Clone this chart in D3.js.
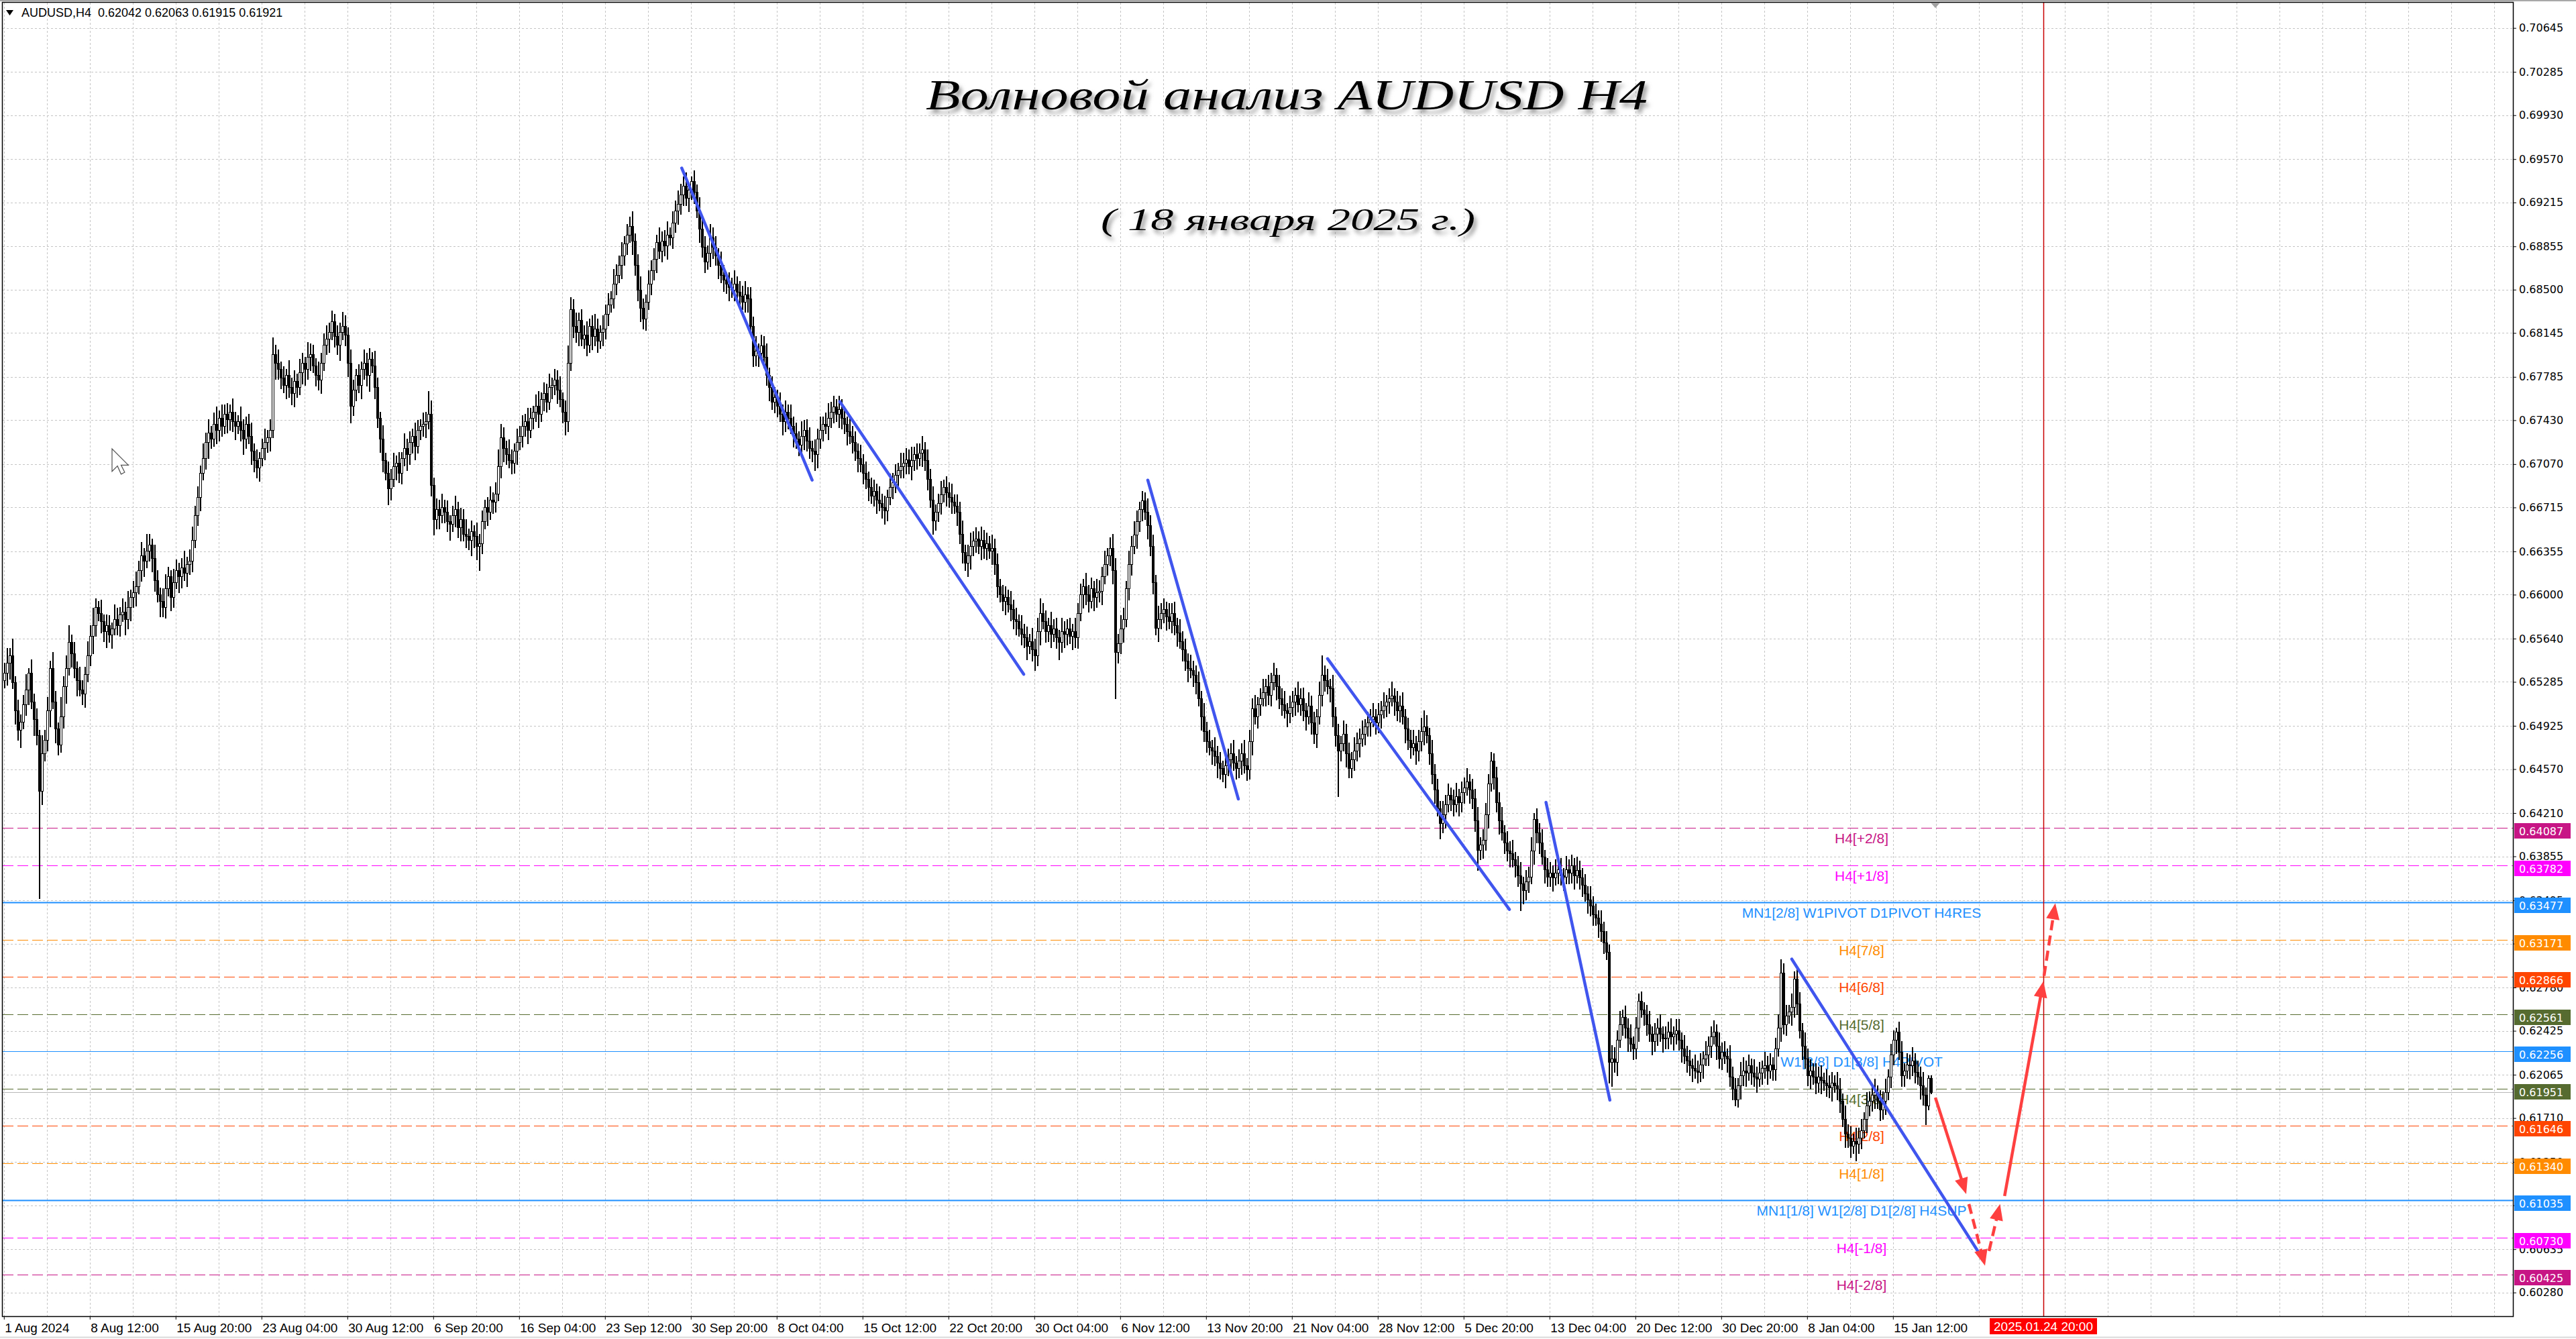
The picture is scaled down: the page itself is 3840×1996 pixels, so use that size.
<!DOCTYPE html>
<html><head><meta charset="utf-8">
<script src="https://cdn.jsdelivr.net/npm/d3@7"></script>
<style>html,body{margin:0;padding:0;background:#fff;overflow:hidden}svg{display:block}</style>
</head><body>
<svg id="c" width="3840" height="1996"></svg>
<script>
// ---------------- DATA ----------------
const symbolInfo = "AUDUSD,H4  0.62042 0.62063 0.61915 0.61921";
const titleLine1 = "Волновой анализ AUDUSD H4";
const titleLine2 = "( 18 января 2025 г.)";
const firstOpen = 6530; // pips (x 1e-4)
const closes = [
6536,6544,6550,6528,6505,6489, 6496,6510,6522,6536,6512,6498,
6485,6439,6470,6481,6505,6540, 6512,6490,6477,6500,6525,6540,
6561,6552,6540,6530,6522,6519, 6535,6550,6566,6575,6590,6585,
6578,6570,6575,6567,6572,6580, 6575,6584,6586,6580,6590,6598,
6602,6607,6620,6632,6628,6636, 6641,6630,6612,6600,6595,6590,
6605,6615,6598,6610,6620,6615, 6622,6618,6625,6628,6645,6665,
6680,6700,6712,6725,6733,6728, 6740,6735,6745,6738,6748,6744,
6750,6742,6738,6742,6735,6728, 6740,6730,6718,6710,6704,6712,
6720,6725,6729,6735,6797,6790, 6785,6778,6772,6780,6770,6765,
6775,6770,6782,6790,6785,6795, 6797,6788,6780,6776,6790,6805,
6810,6815,6824,6812,6805,6815, 6820,6813,6790,6755,6768,6780,
6772,6785,6790,6780,6793,6788, 6770,6745,6728,6710,6700,6687,
6695,6705,6708,6700,6712,6720, 6715,6725,6730,6722,6735,6738,
6740,6742,6748,6690,6662,6670, 6665,6672,6668,6660,6658,6665,
6670,6655,6662,6650,6648,6645, 6652,6648,6640,6642,6660,6672,
6668,6678,6676,6683,6705,6729, 6720,6715,6710,6708,6718,6725,
6730,6738,6742,6735,6745,6750, 6755,6748,6760,6765,6758,6770,
6772,6776,6768,6760,6750,6742, 6790,6834,6820,6815,6825,6810,
6813,6805,6820,6812,6818,6808, 6815,6818,6830,6838,6843,6855,
6862,6870,6878,6888,6895,6902, 6890,6870,6850,6835,6826,6840,
6855,6866,6875,6889,6882,6890, 6886,6895,6893,6905,6915,6920,
6928,6935,6925,6932,6939,6930, 6915,6900,6885,6873,6880,6893,
6885,6878,6870,6862,6858,6855, 6852,6850,6855,6848,6845,6840,
6846,6843,6820,6796,6800,6798, 6804,6795,6780,6770,6758,6762,
6755,6748,6742,6750,6745,6738, 6732,6728,6723,6730,6735,6726,
6720,6718,6715,6728,6735,6740, 6738,6745,6750,6754,6748,6752,
6745,6740,6734,6730,6725,6718, 6712,6707,6700,6695,6688,6681,
6685,6678,6675,6672,6669,6680, 6688,6692,6698,6702,6705,6708,
6711,6705,6710,6715,6712,6716, 6719,6710,6695,6678,6661,6668,
6675,6682,6688,6684,6680,6676, 6673,6668,6650,6635,6626,6632,
6640,6644,6646,6640,6645,6638, 6642,6636,6638,6625,6607,6600,
6595,6598,6592,6588,6580,6578, 6572,6568,6565,6558,6562,6555,
6550,6570,6585,6578,6570,6575, 6568,6572,6565,6561,6570,6568,
6572,6566,6570,6565,6585,6600, 6607,6600,6595,6605,6598,6602,
6603,6615,6625,6632,6638,6620, 6553,6560,6572,6580,6605,6625,
6640,6649,6660,6670,6677,6668, 6657,6640,6610,6573,6580,6585,
6588,6582,6578,6585,6575,6569, 6562,6555,6546,6540,6538,6534,
6528,6515,6500,6488,6480,6475, 6472,6468,6462,6458,6453,6460,
6465,6470,6462,6458,6464,6470, 6460,6457,6480,6507,6500,6510,
6515,6520,6525,6518,6528,6534, 6525,6515,6510,6505,6503,6508,
6512,6518,6510,6515,6505,6500, 6509,6495,6486,6500,6518,6534,
6530,6525,6523,6500,6485,6472, 6478,6486,6470,6458,6465,6472,
6478,6482,6486,6492,6495,6498, 6500,6495,6502,6505,6509,6512,
6515,6517,6512,6505,6509,6500, 6490,6481,6475,6478,6472,6480,
6488,6492,6485,6470,6453,6440, 6425,6413,6420,6428,6436,6432,
6428,6435,6430,6438,6442,6447, 6440,6433,6415,6391,6395,6399,
6420,6445,6464,6450,6430,6415, 6405,6397,6390,6388,6383,6378,
6370,6363,6358,6365,6369,6390, 6416,6405,6397,6385,6375,6369,
6372,6368,6372,6375,6370,6369, 6375,6372,6378,6370,6374,6368,
6362,6355,6350,6345,6338,6335, 6330,6324,6315,6307,6217,6220,
6217,6235,6248,6254,6245,6237, 6232,6228,6245,6267,6260,6256,
6248,6240,6234,6240,6245,6240, 6236,6237,6242,6238,6240,6243,
6235,6228,6222,6218,6214,6212, 6210,6209,6215,6220,6223,6230,
6238,6242,6230,6220,6225,6222, 6220,6205,6195,6186,6198,6206,
6210,6208,6214,6208,6205,6203, 6208,6212,6214,6210,6215,6211,
6228,6245,6290,6248,6255,6258, 6262,6285,6265,6243,6230,6220,
6206,6210,6205,6200,6205,6202, 6200,6198,6196,6200,6198,6195,
6185,6170,6158,6155,6148,6152, 6150,6155,6161,6170,6181,6185,
6190,6192,6185,6178,6185,6192, 6205,6223,6235,6242,6225,6206,
6210,6215,6214,6218,6209,6205, 6198,6190,6181,6204,6192
];
const upWick = [
8,12,6,14,5,9,6,8,13,4,11,7, 9,4,15,8,11,6,13,9,5,16,8,10, 14,6,9,5,11,8,6,12,9,14,7,5, 11,6,9,8,5,12,9,6,11,8,13,6,
9,12,8,11,6,14,9,5,11,8,6,10, 12,8,5,11,9,6,8,14,6,9,11,8, 9,6,12,8,11,5,9,14,6,11,8,9, 6,11,8,5,12,9,6,8,11,6,9,5,
8,11,6,9,14,8,11,6,9,5,12,8, 9,6,11,8,5,12,9,8,6,11,8,9, 11,8,9,6,9,8,12,9,6,11,8,5, 9,6,11,8,9,6,12,8,5,11,6,9,
8,11,6,9,5,12,8,9,6,11,8,6, 9,8,19,11,6,9,8,11,6,9,5,8, 11,6,9,8,12,6,9,5,11,8,9,6, 8,11,6,9,14,11,8,6,12,9,6,11,
8,9,6,11,8,5,9,12,6,9,8,11, 6,9,8,11,6,9,14,10,8,11,6,9, 8,11,6,9,12,8,6,11,8,9,6,12, 9,8,11,6,9,8,12,6,9,11,8,6,
11,8,9,6,12,8,9,11,6,9,8,11, 9,8,11,6,4,9,6,11,8,9,6,11, 8,9,6,11,8,6,9,8,11,6,9,8, 11,6,9,8,12,6,9,8,11,6,9,8,
6,11,8,9,6,11,8,9,6,12,8,9, 11,6,9,8,11,6,9,12,8,9,6,11, 8,9,6,11,8,9,6,11,8,9,6,8, 9,6,11,8,9,6,11,8,9,6,11,8,
9,8,11,6,9,8,11,6,9,8,11,6, 8,11,6,9,8,11,6,9,8,11,6,9, 11,8,9,6,11,8,9,6,11,8,9,6, 8,9,6,11,8,9,6,11,8,9,6,11,
9,11,12,8,9,6,11,8,9,6,11,8, 8,9,6,11,8,9,6,11,8,9,6,11, 9,8,11,6,9,12,10,8,11,9,6,11, 8,11,9,6,8,7,11,8,9,6,11,8,
9,6,11,8,9,6,11,8,9,6,11,8, 8,9,6,11,8,9,6,11,8,9,6,11, 9,8,11,6,9,8,11,6,9,8,11,6, 8,11,6,9,8,10,6,9,8,11,6,9,
9,6,11,8,9,6,11,8,9,6,11,16, 8,9,6,11,8,9,6,11,8,9,6,11, 9,8,11,6,9,8,11,6,9,8,11,6, 8,12,6,9,8,11,6,9,8,11,6,9,
11,13,9,6,11,8,9,6,11,8,9,6, 8,11,6,9,8,11,6,9,8,11,6,9, 9,8,7,6,9,8,11,6,9,8,11,6, 8,11,6,9,8,11,5,9,8,11,6,9,
9,6,11,8,9,6,11,8,9,6,11,8, 8,9,6,11,8,9,6,11,8,9,6,11, 9,8,11,6,9,8,11,6,9,6,8,6, 8,11,6,9,8,11,6,9,8,11,6,9,
9,6,11,8,9,6,11,8,9,6,11,8, 8,9,6,11,8,9,6,11,8,9,6,11, 11,8,9,6,11,8,9,6,11,8,9,6, 9,11,11,8,9,6,11,6,8,9,6,11,
8,9,6,11,8,9,6,11,8,9,6,11, 9,6,11,8,9,6,11,8,9,6,11,8, 8,11,6,9,8,11,6,9,8,3,8,9, 6,9,8,11,6,9,8,11,6,2,2
];
const dnWick = [
6,10,13,5,11,8,14,6,9,12,5,13, 8,88,11,6,9,13,5,11,8,6,9,14, 6,11,8,13,5,9,11,6,8,14,9,6, 9,8,13,6,11,5,8,9,6,13,8,11,
8,11,6,9,13,6,8,11,9,6,13,8, 9,6,11,8,5,13,9,6,11,8,9,6, 8,11,6,9,13,8,6,11,9,8,6,11, 9,8,11,6,9,13,8,6,11,9,8,11,
6,9,8,11,6,13,8,9,6,11,8,9, 11,8,6,9,13,8,11,6,9,8,11,6, 8,11,6,9,8,13,6,9,11,14,8,9, 6,11,8,9,13,6,9,8,11,9,6,13,
9,6,11,8,9,6,13,8,9,11,6,8, 8,11,6,9,13,8,11,6,9,8,13,6, 9,8,11,6,9,8,13,9,11,20,8,6, 11,6,9,8,6,9,11,8,6,9,8,11,
6,9,8,11,6,9,8,11,6,9,8,6, 9,8,11,6,9,11,8,6,9,8,11,6, 8,9,6,11,8,9,6,11,8,9,6,8, 9,6,11,8,9,6,11,8,9,11,8,9,
6,9,8,11,6,9,8,11,6,9,8,11, 8,9,6,11,8,9,6,11,8,9,6,11, 9,8,11,6,9,8,11,6,9,8,11,6, 8,11,6,9,8,11,6,9,8,11,6,9,
9,6,11,8,9,6,11,8,9,6,11,8, 8,9,13,11,8,9,6,11,8,9,6,11, 9,8,11,6,9,8,11,6,9,8,11,6, 8,11,6,9,11,8,6,9,8,11,6,9,
9,6,11,8,9,6,11,8,9,6,11,8, 8,9,6,11,8,9,6,11,8,9,6,11, 11,8,9,6,11,8,9,6,11,8,9,6, 8,11,6,9,8,11,6,9,8,11,6,9,
12,8,11,6,9,8,11,6,9,14,8,11, 9,6,11,8,9,6,11,8,9,6,11,8, 8,11,6,9,8,11,38,9,8,11,6,9, 9,6,11,8,9,6,11,8,9,6,11,8,
8,11,6,9,8,11,6,9,8,11,6,9, 9,6,11,8,9,6,11,8,12,9,6,11, 8,11,6,9,8,11,6,9,8,11,6,9, 9,6,11,8,9,6,11,8,9,6,11,8,
8,11,6,9,8,11,6,9,8,11,6,9, 9,6,11,8,9,37,8,6,11,8,8,9, 8,11,6,9,8,11,6,9,8,11,6,9, 9,6,11,8,9,6,11,8,9,6,11,8,
8,11,6,9,8,11,6,13,8,11,6,9, 9,6,11,8,9,6,11,8,9,17,8,11, 8,11,6,9,8,11,6,9,8,11,6,9, 9,22,11,8,9,6,11,8,9,6,11,8,
8,11,6,9,8,11,6,9,8,11,6,9, 9,6,11,8,9,6,11,8,9,6,17,20, 8,11,6,9,8,11,6,9,8,11,6,9, 9,6,11,8,9,6,11,8,9,6,11,8,
8,11,6,9,8,11,6,9,8,11,6,9, 9,6,11,8,9,6,11,8,9,5,6,11, 8,11,6,9,8,11,6,9,8,11,6,9, 9,6,11,8,9,6,11,8,9,6,11,8,
8,11,6,9,8,11,6,9,8,11,6,9, 9,6,11,8,9,6,14,8,9,6,11,8, 8,11,6,9,8,11,6,9,8,11,6,9, 9,6,11,8,9,6,11,8,15,3,1
];
// time axis: one label every 32 H4 bars starting at bar 0
const timeLabels = ["1 Aug 2024","8 Aug 12:00","15 Aug 20:00","23 Aug 04:00","30 Aug 12:00","6 Sep 20:00",
 "16 Sep 04:00","23 Sep 12:00","30 Sep 20:00","8 Oct 04:00","15 Oct 12:00","22 Oct 20:00","30 Oct 04:00",
 "6 Nov 12:00","13 Nov 20:00","21 Nov 04:00","28 Nov 12:00","5 Dec 20:00","13 Dec 04:00","20 Dec 12:00",
 "30 Dec 20:00","8 Jan 04:00","15 Jan 12:00"];
const labelEvery = 32;
const priceTicks = ["0.70645","0.70285","0.69930","0.69570","0.69215","0.68855","0.68500","0.68145","0.67785",
 "0.67430","0.67070","0.66715","0.66355","0.66000","0.65640","0.65285","0.64925","0.64570","0.64210","0.63855",
 "0.63495","0.63140","0.62780","0.62425","0.62065","0.61710","0.61350","0.60995","0.60635","0.60280"];
// Murrey-type levels
const levelPrices = [0.64087,0.63782,0.63477,0.63171,0.62866,0.62561,0.62256,0.61951,0.61646,0.61340,0.61035,0.60730,0.60425];
const levelNames = ["H4[+2/8]","H4[+1/8]","MN1[2/8] W1PIVOT D1PIVOT H4RES","H4[7/8]","H4[6/8]","H4[5/8]",
 "W1[3/8] D1[3/8] H4PIVOT","H4[3/8]","H4[2/8]","H4[1/8]","MN1[1/8] W1[2/8] D1[2/8] H4SUP","H4[-1/8]","H4[-2/8]"];
const bidPrice = 0.61921;
// wave lines: [bar, price] start and end
const waveStart = [[252.6,0.69497],[311.5,0.67583],[426.3,0.66939],[493.3,0.65475],[574.7,0.64298],[666.3,0.63013]];
const waveEnd   = [[301.2,0.66939],[380.05,0.65348],[460.05,0.64325],[561.05,0.63420],[598.5,0.61857],[736.15,0.60601]];
// forecast arrows: [bar, price]
const fcStart = [[719.8,0.61878],[732.3,0.61005],[739.8,0.60620],[745.6,0.61071],[760.3,0.62875]];
const fcEnd   = [[731.3,0.61087],[738.3,0.60499],[743.9,0.61005],[760.05,0.62831],[764.5,0.63471]];
const fcKind  = ["solid","dash","dash","solid","dash"];
const markerBar = 760; const markerLabel = "2025.01.24 20:00";
const shiftBar = 719.8;

// ---------------- STYLE ----------------
const LEVEL_COLOR = {
 "H4[+2/8]":"#C71585","H4[-2/8]":"#C71585","H4[+1/8]":"#FF00FF","H4[-1/8]":"#FF00FF",
 "H4[7/8]":"#FF8C00","H4[1/8]":"#FF8C00","H4[6/8]":"#FF4500","H4[2/8]":"#FF4500",
 "H4[5/8]":"#556B2F","H4[3/8]":"#556B2F"};
const levelColor = n => LEVEL_COLOR[n] || "#1E90FF";
const levelSolid = n => !LEVEL_COLOR[n];
const levelWidth = n => (n.startsWith("MN1") ? 2 : 1);

const W = 3840, H = 1996;
const L = 4, T = 4, R = 3746, B = 1962;
const svg = d3.select("#c");

const x = d3.scaleLinear().domain([0, 1000]).range([5.8, 5.8 + 4000]);
const y = d3.scaleLinear().domain([0.60280, 0.70645]).range([1926.7, 41.7]);

svg.append("rect").attr("width", W).attr("height", H).attr("fill", "#fff");
svg.append("rect").attr("x",0).attr("y",0).attr("width",W).attr("height",2).attr("fill","#a8a8a8");
svg.append("line").attr("x1",0).attr("x2",W).attr("y1",1993.5).attr("y2",1993.5).attr("stroke","#d9d9d9").attr("stroke-width",2);

const defs = svg.append("defs");
defs.append("clipPath").attr("id","plot").append("rect").attr("x",L).attr("y",T).attr("width",R-L).attr("height",B-T);
const f = defs.append("filter").attr("id","sh").attr("x","-5%").attr("y","-20%").attr("width","110%").attr("height","150%");
f.append("feDropShadow").attr("dx",4).attr("dy",6).attr("stdDeviation",3).attr("flood-color","#777").attr("flood-opacity",0.75);

const plot = svg.append("g").attr("clip-path","url(#plot)");

// grid
const gridBars = d3.range(0, 1000, 16).filter(b => x(b) < R);
plot.append("g").selectAll("line").data(gridBars).join("line")
 .attr("x1", d => Math.round(x(d)) + 0.5).attr("x2", d => Math.round(x(d)) + 0.5)
 .attr("y1", T).attr("y2", B).attr("stroke", "#c4c4c4").attr("stroke-dasharray", "3,3");
plot.append("g").selectAll("line").data(priceTicks).join("line")
 .attr("x1", L).attr("x2", R)
 .attr("y1", d => Math.round(y(+d)) + 0.5).attr("y2", d => Math.round(y(+d)) + 0.5)
 .attr("stroke", "#c4c4c4").attr("stroke-dasharray", "3,3");

// level lines
plot.append("g").selectAll("line").data(levelPrices).join("line")
 .attr("x1", L).attr("x2", R)
 .attr("y1", d => Math.round(y(d)) + 0.5).attr("y2", d => Math.round(y(d)) + 0.5)
 .attr("stroke", (d,i) => levelColor(levelNames[i]))
 .attr("stroke-width", (d,i) => levelWidth(levelNames[i]))
 .attr("stroke-dasharray", (d,i) => levelSolid(levelNames[i]) ? null : "16,6");
// bid line
plot.append("line").attr("x1",L).attr("x2",R).attr("y1",Math.round(y(bidPrice))+0.5).attr("y2",Math.round(y(bidPrice))+0.5)
 .attr("stroke","#b8b8b8");
// marker vertical line
plot.append("line").attr("x1",Math.round(x(markerBar))+0.5).attr("x2",Math.round(x(markerBar))+0.5)
 .attr("y1",T).attr("y2",B).attr("stroke","#c80000").attr("stroke-width",1.5);

// level texts
plot.append("g").selectAll("text").data(levelPrices).join("text")
 .attr("x", 2775).attr("y", d => y(d) + 23)
 .attr("text-anchor","middle").attr("font-family","Liberation Sans, Arial, sans-serif").attr("font-size",21)
 .attr("fill", (d,i) => levelColor(levelNames[i])).text((d,i) => levelNames[i]);

// candles
const candles = closes.map((c, i) => {
  const o = i === 0 ? firstOpen : closes[i-1];
  return {i, o: o/1e4, c: c/1e4, h: (Math.max(o,c) + (upWick[i]||0))/1e4, l: (Math.min(o,c) - (dnWick[i]||0))/1e4};
});
const cg = plot.append("g").attr("shape-rendering","crispEdges");
cg.selectAll("line").data(candles).join("line")
 .attr("x1", d => Math.round(x(d.i)) + 1).attr("x2", d => Math.round(x(d.i)) + 1)
 .attr("y1", d => Math.round(y(d.h))).attr("y2", d => Math.round(y(d.l)) + 1)
 .attr("stroke", "#000").attr("stroke-width", 2);
cg.selectAll("rect").data(candles).join("rect")
 .attr("x", d => Math.round(x(d.i)) - 0.5)
 .attr("y", d => Math.round(y(Math.max(d.o, d.c))) + 0.5)
 .attr("width", 3)
 .attr("height", d => Math.max(0, Math.round(y(Math.min(d.o, d.c))) - Math.round(y(Math.max(d.o, d.c)))))
 .attr("fill", d => d.c >= d.o ? "#fff" : "#000").attr("stroke", "#000").attr("stroke-width", 1);

// wave lines
plot.append("g").selectAll("line").data(waveStart).join("line")
 .attr("x1", d => x(d[0])).attr("y1", d => y(d[1]))
 .attr("x2", (d,i) => x(waveEnd[i][0])).attr("y2", (d,i) => y(waveEnd[i][1]))
 .attr("stroke", "#4055ee").attr("stroke-width", 4.5).attr("stroke-linecap","round");

// forecast arrows
const ag = plot.append("g");
fcStart.forEach((s, i) => {
  const x1 = x(s[0]), y1 = y(s[1]), x2 = x(fcEnd[i][0]), y2 = y(fcEnd[i][1]);
  const len = Math.hypot(x2-x1, y2-y1), ux = (x2-x1)/len, uy = (y2-y1)/len;
  const hl = 24, hw = 10;
  const bx = x2 - ux*hl, by = y2 - uy*hl;
  ag.append("line").attr("x1", x1).attr("y1", y1).attr("x2", bx + ux*2).attr("y2", by + uy*2)
    .attr("stroke", "#ff4040").attr("stroke-width", 4.5)
    .attr("stroke-dasharray", fcKind[i] === "dash" ? "15,8" : null);
  ag.append("path").attr("d", d3.line()([[x2,y2],[bx - uy*hw, by + ux*hw],[bx + uy*hw, by - ux*hw]]) + "Z")
    .attr("fill", "#ff4040");
});

// frame
svg.append("rect").attr("x", L - 0.5).attr("y", T - 0.5).attr("width", R - L + 1).attr("height", B - T + 1)
 .attr("fill","none").attr("stroke","#000").attr("stroke-width",1.5);

// price axis
const pa = svg.append("g").attr("transform", `translate(${R},0)`)
 .call(d3.axisRight(y).tickValues(priceTicks.map(Number)).tickFormat((d,i) => priceTicks[i]).tickSize(5).tickPadding(4));
pa.select(".domain").remove();
pa.selectAll("text").attr("font-family","DejaVu Sans, Verdana, sans-serif").attr("font-size",16).attr("fill","#000");
pa.selectAll("line").attr("stroke","#000");

// level price boxes
const lb = svg.append("g").selectAll("g").data(levelPrices).join("g")
 .attr("transform", d => `translate(3748,${Math.round(y(d)) - 7})`);
lb.append("rect").attr("width", 84).attr("height", 23).attr("fill", (d,i) => levelColor(levelNames[i]));
lb.append("text").attr("x", 7).attr("y", 17.5).attr("font-family","DejaVu Sans, Verdana, sans-serif").attr("font-size",16)
 .attr("fill","#fff").text(d => d.toFixed(5));

// time axis
const ta = svg.append("g").attr("transform", `translate(0,${B})`)
 .call(d3.axisBottom(x).tickValues(timeLabels.map((d,i) => i*labelEvery)).tickFormat((d,i) => timeLabels[i]).tickSize(5).tickPadding(6));
ta.select(".domain").remove();
ta.selectAll("text").attr("text-anchor","start").attr("dx", 1)
 .attr("font-family","Liberation Sans, Arial, sans-serif").attr("font-size",19).attr("fill","#000");
ta.selectAll("line").attr("stroke","#000");

// marker label on time axis
const mx = Math.round(x(markerBar));
svg.append("rect").attr("x", mx - 80).attr("y", 1965).attr("width", 160).attr("height", 24).attr("fill","#ff0000");
svg.append("text").attr("x", mx).attr("y", 1984).attr("text-anchor","middle")
 .attr("font-family","Liberation Sans, Arial, sans-serif").attr("font-size",19).attr("fill","#fff").text(markerLabel);

// chart shift marker
const sx = x(shiftBar);
svg.append("path").attr("d", d3.line()([[sx-7,T],[sx+7,T],[sx,T+8]]) + "Z").attr("fill","#a0a0a0");

// header
svg.append("path").attr("d", d3.line()([[9,15],[20,15],[14.5,23]]) + "Z").attr("fill","#000");
svg.append("text").attr("x", 32).attr("y", 25).attr("font-family","Liberation Sans, Arial, sans-serif")
 .attr("font-size",18).attr("fill","#000").style("white-space","pre").text(symbolInfo);

// mouse cursor
svg.append("path").attr("transform","translate(167,669) scale(1.35)")
 .attr("d","M0,0 L0,25 L6,19 L10,28 L14,26 L10,18 L18,18 Z").attr("fill","#fff").attr("stroke","#555").attr("stroke-width",0.9);

// titles
svg.append("text").attr("x", 1918).attr("y", 163).attr("text-anchor","middle")
 .attr("font-family","Liberation Serif, DejaVu Serif, serif").attr("font-style","italic").attr("font-size",64)
 .attr("textLength", 1076).attr("lengthAdjust","spacingAndGlyphs")
 .attr("fill","#000").attr("filter","url(#sh)").text(titleLine1);
svg.append("text").attr("x", 1920).attr("y", 343).attr("text-anchor","middle")
 .attr("font-family","Liberation Serif, DejaVu Serif, serif").attr("font-style","italic").attr("font-size",46)
 .attr("textLength", 558).attr("lengthAdjust","spacingAndGlyphs")
 .attr("fill","#000").attr("filter","url(#sh)").text(titleLine2);
</script>
</body></html>
